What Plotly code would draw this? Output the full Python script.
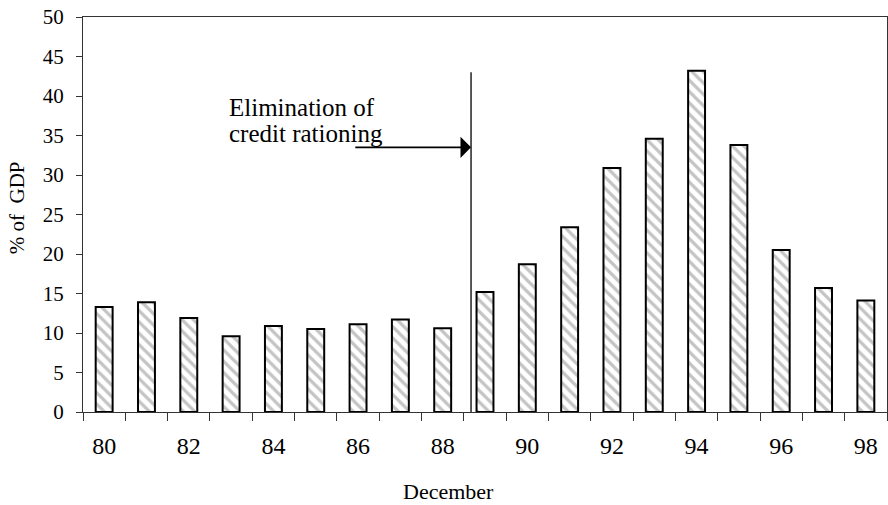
import plotly.graph_objects as go

# December values, share of GDP (%)
years = list(range(80, 99))
pct_gdp = [13.3, 13.9, 11.9, 9.6, 10.9, 10.5, 11.1, 11.7, 10.6,
           15.2, 18.7, 23.4, 30.9, 34.6, 43.2, 33.8, 20.5, 15.7, 14.1]
tick_years = list(range(80, 99, 2))
tick_labels = [str(y) for y in tick_years]
y_ticks = list(range(0, 51, 5))

# policy-change marker
event_x = 88.67
event_top = 43.0
arrow_y = 33.5
arrow_start = 85.9
note_lines = ["Elimination of", "credit rationing"]
note_y = [38.6, 35.3]
note_x = 82.9

FONT = "Liberation Serif"

fig = go.Figure()
fig.add_trace(go.Bar(
    x=years, y=pct_gdp, width=0.4,
    marker=dict(
        color="white",
        line=dict(color="black", width=2),
        pattern=dict(shape="\\", fgcolor="#8a8a8a", bgcolor="white",
                     size=8, solidity=0.4),
    ),
    showlegend=False,
))

# vertical marker line
fig.add_shape(type="line", xref="x", yref="y",
              x0=event_x, x1=event_x, y0=-0.7, y1=event_top,
              line=dict(color="black", width=1.3))

# arrow pointing at the marker line
fig.add_annotation(x=event_x, y=arrow_y, ax=arrow_start, ay=arrow_y,
                   xref="x", yref="y", axref="x", ayref="y",
                   text="", showarrow=True, arrowhead=1, arrowsize=2.2,
                   arrowwidth=1.6, arrowcolor="black")
for line, yv in zip(note_lines, note_y):
    fig.add_annotation(x=note_x, y=yv, xref="x", yref="y",
                       xanchor="left", yanchor="middle", showarrow=False,
                       text=line,
                       font=dict(family=FONT, size=25, color="black"))

# axis titles
fig.add_annotation(x=0.455, y=-0.2, xref="paper", yref="paper",
                   xanchor="center", yanchor="middle", showarrow=False,
                   text="December", font=dict(family=FONT, size=22))
fig.add_annotation(x=-0.082, y=0.516, xref="paper", yref="paper",
                   xanchor="center", yanchor="middle", showarrow=False,
                   textangle=-90, text="% of  GDP",
                   font=dict(family=FONT, size=21))

fig.update_layout(
    width=888, height=505,
    margin=dict(l=83, r=1, t=17, b=93),
    paper_bgcolor="white", plot_bgcolor="white",
    font=dict(family=FONT, size=20, color="black"),
    bargap=0.6,
)
fig.update_xaxes(
    range=[79.5, 98.5],
    tickmode="array", tickvals=tick_years, ticktext=tick_labels,
    ticks="outside", ticklen=0, tickcolor="white",
    ticklabelstandoff=12,
    tickfont=dict(family=FONT, size=24),
    minor=dict(tickmode="linear", tick0=79.5, dtick=1, ticks="outside",
               ticklen=8, tickcolor="#333", tickwidth=1),
    showline=True, linecolor="#333", linewidth=1, mirror=True,
    showgrid=False, zeroline=False,
)
fig.update_yaxes(
    range=[0, 50], tickmode="array", tickvals=y_ticks,
    ticks="outside", ticklen=6, tickcolor="#333",
    ticklabelstandoff=8,
    tickfont=dict(family=FONT, size=21),
    showline=True, linecolor="#333", linewidth=1, mirror=True,
    showgrid=False, zeroline=False,
)

fig.write_html("out.html")
